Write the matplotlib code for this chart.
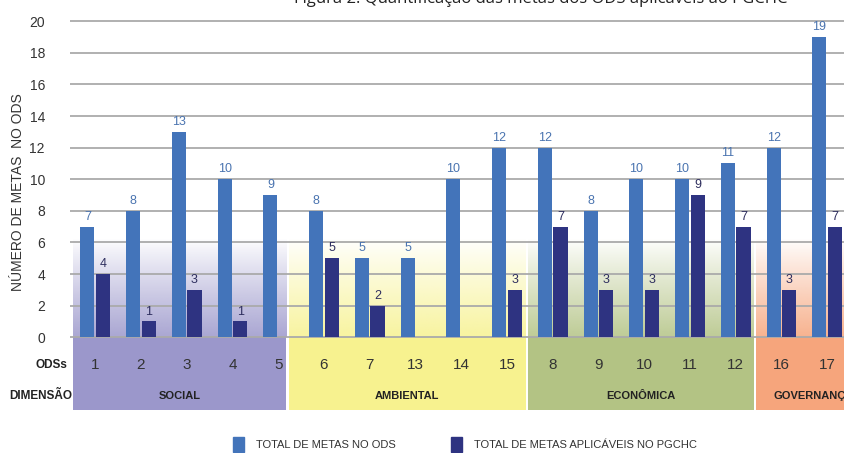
import matplotlib.pyplot as plt
import numpy as np
from matplotlib.patches import Patch
from matplotlib.colors import to_rgb

# Metas por ODS, agrupadas por dimensão
ods = ['1', '2', '3', '4', '5', '6', '7', '13', '14', '15',
       '8', '9', '10', '11', '12', '16', '17']
total_metas = [7, 8, 13, 10, 9, 8, 5, 5, 10, 12, 12, 8, 10, 10, 11, 12, 19]
metas_pgchc = [4, 1, 3, 1, 0, 5, 2, 0, 0, 3, 7, 3, 3, 9, 7, 3, 7]

dimensoes = ['SOCIAL', 'AMBIENTAL', 'ECONÔMICA', 'GOVERNANÇA']
cores_dimensao = ['#9b97cb', '#f7f28f', '#b3c384', '#f6a57c']

cor_total = '#4374ba'
cor_pgchc = '#2e3381'

plt.rcParams['font.family'] = ['Liberation Sans', 'DejaVu Sans']

fig = plt.figure(figsize=(8.45, 4.53), dpi=100)
ax = fig.add_axes([70 / 845, (453 - 410) / 453, 1 - 70 / 845, 392 / 453])

x = np.arange(len(ods))
w = 0.31
off = 0.17

ymin, ymax = -4.6, 20.2
ax.set_xlim(-0.55, 16.39)
ax.set_ylim(ymin, ymax)

# faixas coloridas das dimensões (degradê acima do zero, sólido abaixo)
limites = [-0.48, 4.24, 9.47, 14.45, 17.0]
for i, cor in enumerate(cores_dimensao):
    x0, x1 = limites[i], limites[i + 1] - 0.06
    rgb = np.array(to_rgb(cor))
    alpha = np.linspace(1, 0, 100) ** 0.9
    grad = np.ones((100, 1, 4))
    grad[:, 0, :3] = rgb
    grad[:, 0, 3] = alpha * 0.85
    ax.imshow(grad, extent=[x0, x1, 0, 6.2], origin='lower', aspect='auto', zorder=0)
    ax.fill_between([x0, x1], ymin, 0, color=cor, lw=0, zorder=0)
    ax.text((x0 + x1) / 2, -3.72, dimensoes[i], ha='center', va='center',
            fontsize=8, fontweight='bold', color='#222222')

# linhas de grade
for g in range(0, 21, 2):
    ax.axhline(g, color='#aaaaaa', lw=1.3, zorder=1)

ax.bar(x - off, total_metas, w, color=cor_total, zorder=3)
vals2 = np.array(metas_pgchc)
ax.bar(x[vals2 > 0] + off, vals2[vals2 > 0], w, color=cor_pgchc, zorder=3)

for xi, v in zip(x, total_metas):
    ax.text(xi - off, v + 0.25, str(v), ha='center', va='bottom', fontsize=9, color='#4a74b0')
for xi, v in zip(x[vals2 > 0], vals2[vals2 > 0]):
    ax.text(xi + off, v + 0.25, str(v), ha='center', va='bottom', fontsize=9, color='#2e2e5e')

for xi, lab in zip(x, ods):
    ax.text(xi, -1.75, lab, ha='center', va='center', fontsize=11, color='#333333')

ax.text(-0.6, -1.75, 'ODSs', ha='right', va='center', fontsize=8.5, fontweight='bold', color='#222222')
ax.text(-0.5, -3.72, 'DIMENSÃO', ha='right', va='center', fontsize=8.5, fontweight='bold', color='#222222')

ax.set_yticks(range(0, 21, 2))
ax.set_xticks([])
ax.tick_params(axis='y', length=0, labelsize=10, labelcolor='#333333', pad=18)
for s in ax.spines.values():
    s.set_visible(False)
ax.set_facecolor('none')

fig.text(18 / 845, 1 - 192 / 453, 'NÚMERO DE METAS  NO ODS', rotation=90, ha='center', va='center',
         fontsize=10, color='#333333')

fig.text(541 / 845, 1 + 1 / 453, 'Figura 2. Quantificação das metas dos ODS aplicáveis ao PGCHC',
         ha='center', va='center', fontsize=12, family=['Open Sans', 'DejaVu Sans'], color='#222222')

fig.legend(handles=[Patch(color=cor_total, label='TOTAL DE METAS NO ODS'),
                    Patch(color=cor_pgchc, label='TOTAL DE METAS APLICÁVEIS NO PGCHC')],
           loc='center left', bbox_to_anchor=(223 / 845, 1 - 444 / 453), ncol=2, frameon=False,
           fontsize=8, handlelength=1.0, handleheight=1.7, columnspacing=4.9, handletextpad=1.1,
           labelcolor='#333333')

fig.savefig('out.png', dpi=100)
